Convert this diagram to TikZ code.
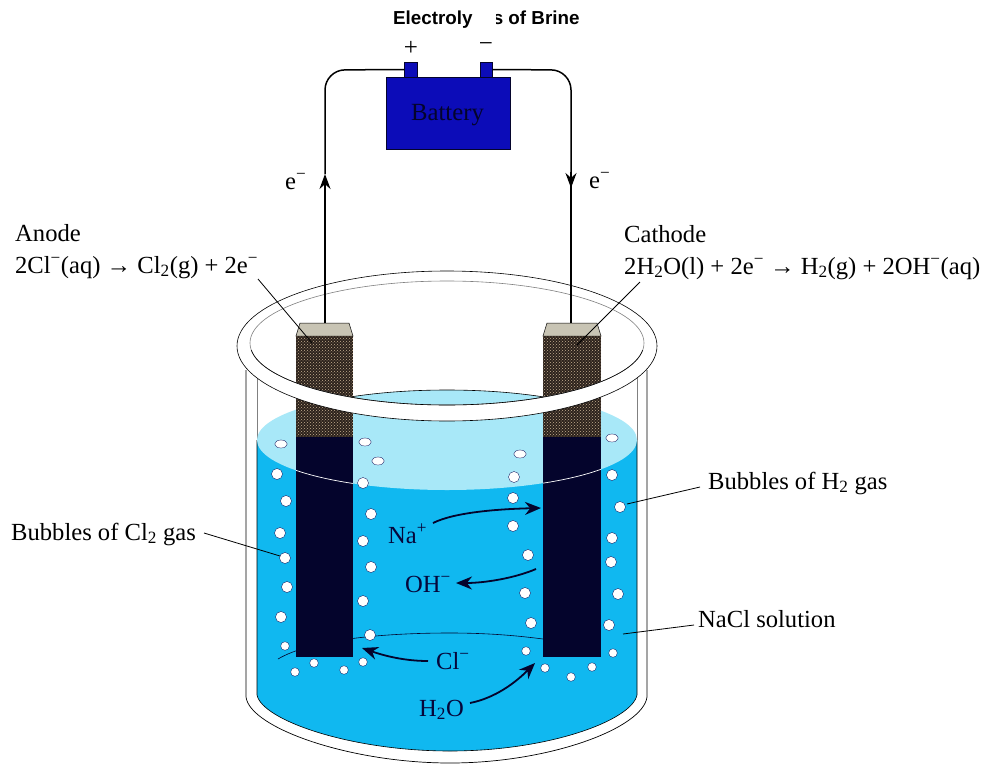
\documentclass[tikz,border=0pt]{standalone}
\usepackage{fontspec}
\setmainfont{Liberation Serif}
\newfontfamily\titlefont{Liberation Sans}
\usetikzlibrary{arrows.meta,patterns}
\definecolor{liquid}{HTML}{10B8F0}
\definecolor{surface}{HTML}{A8E8F8}
\definecolor{navy}{HTML}{04042C}
\definecolor{batblue}{HTML}{0C0CB8}
\definecolor{dryrod}{HTML}{2C221C}
\definecolor{rodtop}{HTML}{C8C4B4}
\definecolor{ink}{HTML}{06063A}
\tikzset{
 lab/.style={font=\fontsize{24.6pt}{26pt}\selectfont,inner sep=0pt,anchor=base west,text=black},
 ion/.style={font=\fontsize{24.6pt}{26pt}\selectfont,inner sep=0pt,anchor=base west,text=ink},
 leader/.style={draw=black,line width=0.8pt},
 wire/.style={draw=black,line width=1.5pt},
 wirearrow/.style={wire,-{Stealth[length=15pt,width=11pt]}},
 ionarrow/.style={draw=navy,line width=1.8pt,-{Stealth[length=16pt,width=13pt]}},
 bub/.style={fill=white,draw=black!70!blue,line width=0.3pt},
 terminal/.style={fill=batblue,draw=navy,line width=0.5pt,minimum width=12.5pt,minimum height=15pt,inner sep=0pt},
 titletext/.style={font=\titlefont\bfseries\fontsize{18.8pt}{20pt}\selectfont,inner sep=0pt,anchor=base west}
}
\newcommand{\minus}{\textsuperscript{−}}
\newcommand{\bubble}[2]{\fill[bub] (#1,#2) circle[radius=5.5pt];}
\newcommand{\smbubble}[2]{\fill[bub] (#1,#2) circle[radius=4.3pt];}
\newcommand{\flatbubble}[2]{\fill[bub] (#1,#2) ellipse[x radius=6.3pt,y radius=4pt];}
\begin{document}
\begin{tikzpicture}[x=1pt,y=-1pt]
\useasboundingbox (0,0) rectangle (989,772);
\fill[white] (0,0) rectangle (989,772);
% beaker
\draw[black,line width=0.7pt] (246,370) -- (246,697) .. controls (250,728) and (350,763) .. (450,763) .. controls (550,763) and (643,728) .. (647,697) -- (647,370);
\draw[black!50,line width=0.6pt] (257,370) -- (257,440);
\draw[black!50,line width=0.6pt] (637,370) -- (637,440);
\fill[liquid] (257,440) -- (257,695) .. controls (262,720) and (350,751) .. (450,751) .. controls (550,751) and (632,720) .. (637,695) -- (637,440) -- cycle;
\draw[black,line width=0.6pt] (257,440) -- (257,695) .. controls (262,720) and (350,751) .. (450,751) .. controls (550,751) and (632,720) .. (637,695) -- (637,440);
\fill[surface] (447,440) ellipse[x radius=190pt,y radius=50pt];
\draw[navy,line width=0.6pt] (278,659) .. controls (310,640) and (380,633) .. (450,633) .. controls (490,633) and (520,636) .. (543,639);
% electrodes
\foreach \l/\r in {296/353,543/601}{
 \fill[rodtop] (\l,336) -- ({\l+4},323) -- ({\r-4},323) -- (\r,336) -- cycle;
 \draw[black,line width=0.5pt] (\l,336) -- ({\l+4},323) -- ({\r-4},323) -- (\r,336) -- cycle;
 \fill[dryrod] (\l,336) rectangle (\r,437);
 \fill[pattern=crosshatch dots,pattern color=rodtop!70!brown] (\l,336) rectangle (\r,437);
 \fill[navy] (\l,437) rectangle (\r,657);
 \begin{scope}
  \clip (\l,437) rectangle (\r,500);
  \draw[white,line width=0.7pt] (447,440) ellipse[x radius=190pt,y radius=50pt];
 \end{scope}
}
% rim
\fill[white,even odd rule] (447,346) ellipse[x radius=210pt,y radius=75pt] (447,343) ellipse[x radius=197pt,y radius=62pt];
\draw[black,line width=0.6pt] (447,346) ellipse[x radius=210pt,y radius=75pt];
\draw[black!50,line width=0.6pt] (447,343) ellipse[x radius=197pt,y radius=62pt];
\begin{scope}
 \clip (200,350) rectangle (700,430);
 \draw[black,line width=0.6pt] (447,343) ellipse[x radius=197pt,y radius=62pt];
\end{scope}
% back surface arc visible inside the rim
\begin{scope}
 \clip (353,380) rectangle (543,420);
 \draw[black,line width=0.6pt] (447,440) ellipse[x radius=190pt,y radius=50pt];
\end{scope}
% bubbles
\flatbubble{281}{444}\flatbubble{365}{442}\flatbubble{378}{461}\flatbubble{520}{454}\flatbubble{612}{438}
\bubble{514}{477}\bubble{277}{474}\bubble{612}{475}\bubble{363}{483}\bubble{286}{501}\bubble{513}{498}\bubble{620}{507}\bubble{371}{514}\bubble{513}{526}
\bubble{280}{533}\bubble{363}{541}\bubble{612}{538}\bubble{285}{558}\bubble{528}{555}\bubble{611}{562}\bubble{371}{567}\bubble{287}{587}\bubble{525}{593}\bubble{618}{594}\bubble{363}{601}\bubble{281}{617}\bubble{531}{623}\bubble{609}{625}\bubble{370}{635}
\smbubble{285}{646}\smbubble{526}{651}\smbubble{613}{653}\smbubble{363}{662}\smbubble{314}{663}\smbubble{344}{670}\smbubble{295}{672}\smbubble{545}{668}\smbubble{592}{667}\smbubble{571}{677}
% battery
\node[fill=batblue,draw=navy,line width=0.5pt,minimum width=124pt,minimum height=72pt,inner sep=0pt] (bat) at (448,113) {};
\node[text=navy,inner sep=0pt,anchor=base,font=\fontsize{24.7pt}{26pt}\selectfont] (batlabel) at (447.5,120) {Battery};
\node[terminal] (tplus) at (410.5,69.5) {};
\node[terminal] (tminus) at (486,69.5) {};
\node[font=\fontsize{25pt}{26pt}\selectfont,inner sep=0pt] (plus) at (411,48) {+};
\node[font=\fontsize{25pt}{26pt}\selectfont,inner sep=0pt] (minus) at (486,47) {−};
% title
\node[titletext] (t1) at (393,24) {Electroly};
\begin{scope}
 \clip (496,5) rectangle (590,35);
 \node[titletext] (t2) at (492.6,24) {s of Brine};
\end{scope}
% wires
\coordinate (aTop) at (325,323);
\coordinate (cTop) at (571,323);
\coordinate (aArrow) at (325,174);
\coordinate (cArrow) at (571,188);
\coordinate (cTail) at (571,172);
\coordinate (cUnder) at (571,181);
\draw[wire] (aTop) -- (325,185);
\draw[wirearrow] (325,186) -- (aArrow);
\draw[wire,rounded corners=20pt] (aArrow) -- (325,70) -- (tplus.west);
\draw[wirearrow] (cTail) -- (cArrow);
\draw[wire] (cTop) -- (cUnder);
\draw[wire,rounded corners=20pt] (tminus.east) -- (571,70) -- (cTail);
% labels
\node[lab] (em1) at (285,189) {e\minus};
\node[lab] (em2) at (589,188) {e\minus};
\node[lab] (anode) at (15,241) {Anode};
\node[lab] (anodeeq) at (15,273) {2Cl\minus(aq) → Cl\textsubscript{2}(g) + 2e\minus};
\node[lab] (cathode) at (624,242) {Cathode};
\node[lab] (cathodeeq) at (624,274) {2H\textsubscript{2}O(l) + 2e\minus{} → H\textsubscript{2}(g) + 2OH\minus(aq)};
\node[lab] (bh) at (708,489) {Bubbles of H\textsubscript{2} gas};
\node[lab] (bc) at (11,540) {Bubbles of Cl\textsubscript{2} gas};
\node[lab] (nacl) at (698,627) {NaCl solution};
% leaders
\coordinate (aL1) at (258,279);\coordinate (aL2) at (312,343);
\coordinate (cL1) at (640,282);\coordinate (cL2) at (577,345);
\coordinate (hL1) at (700,487);\coordinate (hL2) at (627,504);
\coordinate (clL1) at (204,533);\coordinate (clL2) at (280,556);
\coordinate (nL1) at (694,625);\coordinate (nL2) at (623,634);
\draw[leader] (aL1) -- (aL2);
\draw[leader] (cL1) -- (cL2);
\draw[leader] (hL1) -- (hL2);
\draw[leader] (clL1) -- (clL2);
\draw[leader] (nL1) -- (nL2);
% ions
\node[ion] (na) at (388,543) {Na\textsuperscript{+}};
\node[ion] (oh) at (405,592) {OH\minus};
\node[ion] (cl) at (436,669) {Cl\minus};
\node[ion] (hho) at (419,716) {H\textsubscript{2}O};
\coordinate (naEnd) at (541,508);
\coordinate (ohStart) at (536,569);
\coordinate (clEnd) at (362,648);
\coordinate (hhoEnd) at (535,663);
\draw[ionarrow] (433,523) .. controls (455,512) and (500,509) .. (naEnd);
\draw[ionarrow] (ohStart) .. controls (515,578) and (485,583) .. (456,583);
\draw[ionarrow] (428,661) .. controls (405,661) and (385,656) .. (clEnd);
\draw[ionarrow] (470,703) .. controls (495,698) and (515,683) .. (hhoEnd);
\end{tikzpicture}
\end{document}
